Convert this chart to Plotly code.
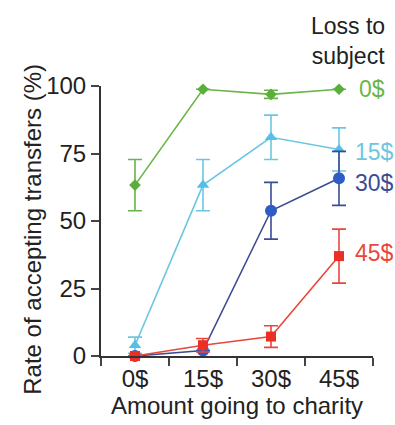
import plotly.graph_objects as go

categories = ["0$", "15$", "30$", "45$"]
loss_labels = ["0$", "15$", "30$", "45$"]

loss0_values = [63.3, 98.8, 96.9, 98.8]
loss0_err = [9.5, 0.0, 1.5, 0.0]
loss15_values = [4.0, 63.3, 81.0, 76.5]
loss15_err = [3.0, 9.5, 8.2, 8.0]
loss30_values = [0.0, 2.0, 53.8, 65.8]
loss30_err = [0.0, 0.0, 10.5, 10.0]
loss45_values = [0.0, 4.0, 7.2, 37.0]
loss45_err = [0.0, 2.5, 4.0, 10.0]

y_ticks = [0, 25, 50, 75, 100]

series = [
    (loss0_values, loss0_err, "#6ab547", "#58b03a", "diamond", 9, loss_labels[0]),
    (loss15_values, loss15_err, "#6cc6e2", "#55c0e6", "triangle-up", 11, loss_labels[1]),
    (loss30_values, loss30_err, "#3c4c92", "#2d5cc4", "circle", 12, loss_labels[2]),
    (loss45_values, loss45_err, "#e9473c", "#ec2f24", "square", 10, loss_labels[3]),
]

FONT = "Liberation Sans, Arial, sans-serif"

fig = go.Figure()
for vals, errs, lcol, mcol, sym, size, name in series:
    fig.add_trace(go.Scatter(
        x=categories, y=vals, mode="lines+markers", name=name,
        line=dict(color=lcol, width=1.6),
        marker=dict(symbol=sym, size=size, color=mcol),
        error_y=dict(type="data", array=errs, visible=True, color=lcol,
                     thickness=1.6, width=7),
        cliponaxis=False,
    ))

label_y = [98.8, 75.5, 64.0, 38.0]
label_x = [3.26, 3.2, 3.2, 3.2]
label_colors = ["#6ab547", "#6cc6e2", "#3c4c92", "#e9473c"]
annotations = []
for lab, xx, yy, col in zip(loss_labels, label_x, label_y, label_colors):
    annotations.append(dict(x=xx, y=yy, xref="x", yref="y", text=lab,
                            showarrow=False, xanchor="left", yanchor="middle",
                            font=dict(family=FONT, size=23, color=col)))
annotations.append(dict(x=0.908, y=1.167, xref="paper", yref="paper",
                        text="Loss to<br>subject", showarrow=False,
                        xanchor="center", yanchor="middle", align="center",
                        font=dict(family=FONT, size=23, color="#222222")))
annotations.append(dict(x=-0.255, y=0.47, xref="paper", yref="paper",
                        text="Rate of accepting transfers (%)", textangle=-90,
                        showarrow=False, xanchor="center", yanchor="middle",
                        font=dict(family=FONT, size=24, color="#222222")))

fig.update_layout(
    width=395, height=425,
    margin=dict(l=101, r=22, t=86, b=69),
    paper_bgcolor="white", plot_bgcolor="white",
    showlegend=False,
    font=dict(family=FONT, size=24, color="#222222"),
    annotations=annotations,
    xaxis=dict(type="category", range=[-0.5, 3.5], tickson="boundaries",
               ticks="outside", ticklen=8, tickwidth=1.5, tickcolor="#444444",
               showline=True, linecolor="#333333", linewidth=2,
               showgrid=False, zeroline=False,
               tickfont=dict(family=FONT, size=24, color="#222222"),
               title=dict(text="Amount going to charity", standoff=2,
                          font=dict(family=FONT, size=24, color="#222222"))),
    yaxis=dict(range=[0, 100], tickvals=y_ticks, ticks="outside", ticklen=8,
               tickwidth=1.5, tickcolor="#444444",
               showline=True, linecolor="#333333", linewidth=2,
               showgrid=False, zeroline=False,
               tickfont=dict(family=FONT, size=24, color="#222222")),
)

fig.write_html(
    "out.html",
    config={"displayModeBar": False},
    post_script="document.body.style.margin='0';document.body.style.overflow='hidden';",
)
